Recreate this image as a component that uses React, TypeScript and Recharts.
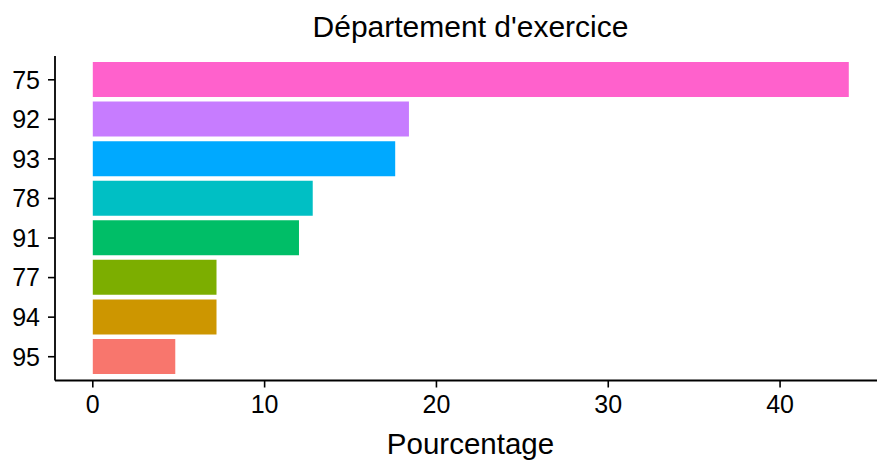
import React from "react";
import { BarChart, Bar, XAxis, YAxis, Cell } from "recharts";

const departments = ["75", "92", "93", "78", "91", "77", "94", "95"];
const percentages = [44.0, 18.4, 17.6, 12.8, 12.0, 7.2, 7.2, 4.8];
const barColors = ["#FF61CC", "#C77CFF", "#00A9FF", "#00BFC4", "#00BE67", "#7CAE00", "#CD9600", "#F8766D"];
const xTicks = [0, 10, 20, 30, 40];
const title = "Département d'exercice";
const xLabel = "Pourcentage";

const data = departments.map((d, i) => ({ dept: d, pct: percentages[i] }));

const FONT = "'Liberation Sans', Arial, Helvetica, sans-serif";

export default function App() {
  return (
    <div
      style={{
        position: "absolute",
        left: 0,
        top: 0,
        width: 877,
        height: 461,
        overflow: "hidden",
        background: "#fff",
        fontFamily: FONT,
      }}
    >
      <BarChart
        width={888}
        height={461}
        data={data}
        layout="vertical"
        margin={{ top: 56, right: 1.4, bottom: 0, left: 0 }}
      >
        <XAxis
          type="number"
          domain={[-2.2, 46.2]}
          ticks={xTicks}
          allowDataOverflow
          height={80.5}
          tickSize={7}
          tickMargin={8}
          axisLine={{ stroke: "#000", strokeWidth: 1.8 }}
          tickLine={{ stroke: "#000", strokeWidth: 1.6 }}
          tick={{ fill: "#000", fontSize: 25, fontFamily: FONT }}
        />
        <YAxis
          type="category"
          dataKey="dept"
          width={55}
          padding={{ top: 4, bottom: 4 }}
          tickSize={7}
          tickMargin={8}
          axisLine={{ stroke: "#000", strokeWidth: 1.8 }}
          tickLine={{ stroke: "#000", strokeWidth: 1.6 }}
          tick={{ fill: "#000", fontSize: 25, fontFamily: FONT }}
        />
        <Bar dataKey="pct" barSize={35} isAnimationActive={false}>
          {data.map((d, i) => (
            <Cell key={d.dept} fill={barColors[i]} />
          ))}
        </Bar>
      </BarChart>
      <div
        style={{
          position: "absolute",
          left: 0,
          width: 941,
          top: 11.9,
          textAlign: "center",
          fontSize: 30,
          lineHeight: "30px",
          color: "#000",
          whiteSpace: "nowrap",
        }}
      >
        {title}
      </div>
      <div
        style={{
          position: "absolute",
          left: 0,
          width: 941,
          top: 429,
          textAlign: "center",
          fontSize: 29.5,
          lineHeight: "29.5px",
          color: "#000",
          whiteSpace: "nowrap",
        }}
      >
        {xLabel}
      </div>
    </div>
  );
}
